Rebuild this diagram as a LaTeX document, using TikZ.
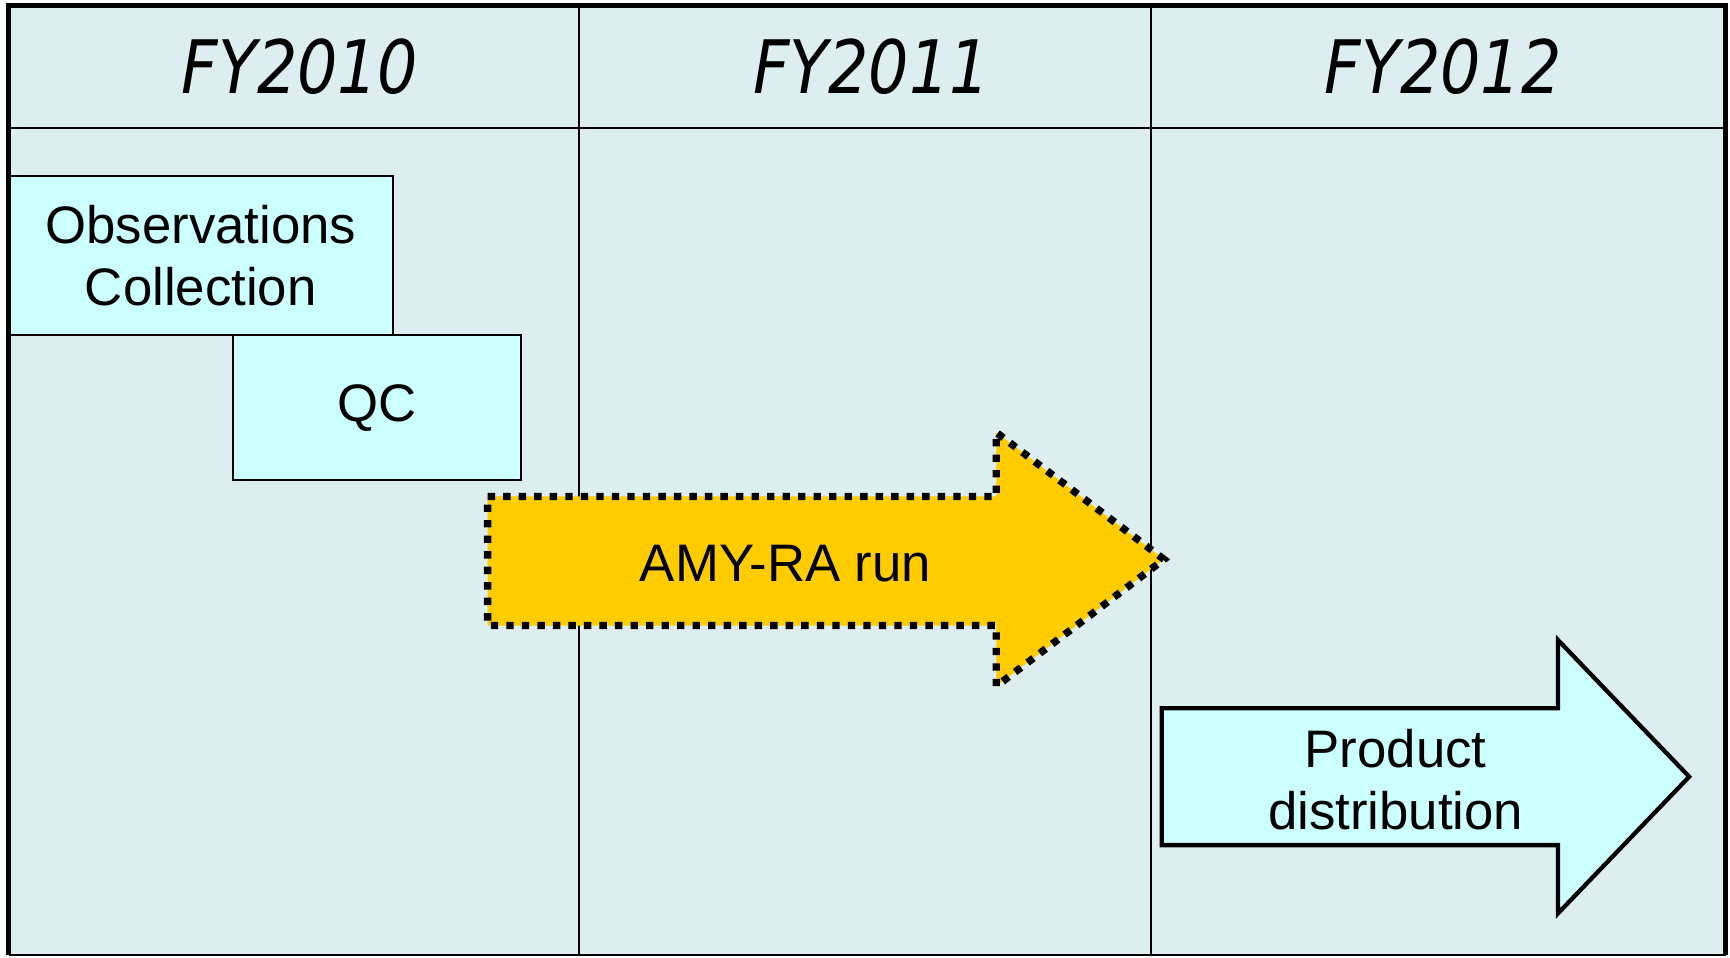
\documentclass[tikz,border=0pt]{standalone}
\usepackage{fontspec}
\setmainfont{Liberation Sans}
\newfontfamily\fyfont[FakeStretch=0.86]{DejaVu Sans}
\usepackage{xcolor}
\definecolor{cellbg}{HTML}{DDEEF1}
\definecolor{boxbg}{HTML}{CCFFFF}
\definecolor{runbg}{HTML}{FFCC00}

\begin{document}
\begin{tikzpicture}
  [x=0.01cm,y=-0.01cm,every node/.style={align=center,font=\fontsize{13.6}{16}\selectfont},
   grid/.style={line width=0.5pt},
   task/.style={draw,fill=boxbg,line width=0.5pt},
   year/.style={font=\fyfont\itshape\fontsize{19}{23}\selectfont},
   run/.style={fill=runbg,draw,line width=1.9pt,dash pattern=on 1.9pt off 2.1pt},
   ship/.style={fill=boxbg,draw,line width=1.1pt}]
  \useasboundingbox (0,0) rectangle (1568,868);
  \fill[cellbg] (8,5) rectangle (1564,866);

  \foreach \x in {525,1043}
    \draw[grid] (\x,5) -- (\x,866);
  \draw[grid] (8,116) -- (1564,116);
  \draw[grid] (8,866) -- (1564,866);

  \node[year] (fya) at (272,60) {FY2010};
  \node[year] (fyb) at (790,60) {FY2011};
  \node[year] (fyc) at (1308,60) {FY2012};

  \node[task,minimum width=3.48cm,minimum height=1.44cm] (obs) at (182,232) {Observations\\Collection};
  \node[task,minimum width=2.61cm,minimum height=1.31cm] (qc) at (341.5,369.5) {QC};

  \draw[run] (442,450) -- (903,450) -- (903,392) -- (1055,507) -- (903,622) -- (903,567) -- (442,567) -- cycle;
  \node (amy) at (712,511) {AMY-RA run};

  \draw[ship] (1053,642) -- (1412,642) -- (1412,580) -- (1531,704) -- (1412,828) -- (1412,766) -- (1053,766) -- cycle;
  \node (dist) at (1265,707) {Product\\distribution};

  \draw[line width=1.3pt] (8,866) -- (8,5) -- (1564,5) -- (1564,866);
\end{tikzpicture}
\end{document}
